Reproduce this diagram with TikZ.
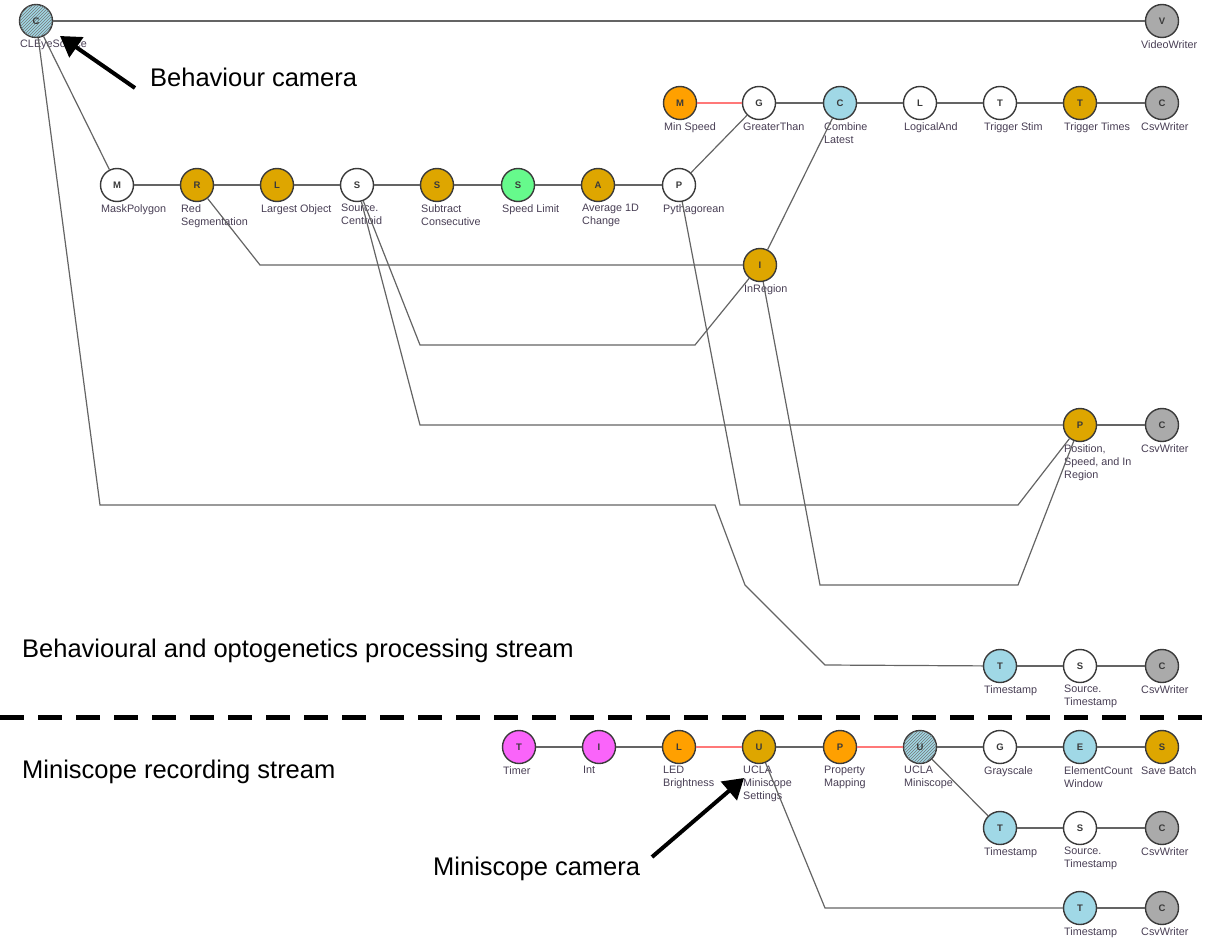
\documentclass[tikz,border=0pt]{standalone}
\usepackage{fontspec}
\setmainfont{Liberation Sans}
\usetikzlibrary{patterns,arrows.meta}
\definecolor{ndraw}{RGB}{58,58,58}
\definecolor{edgec}{RGB}{100,100,100}
\definecolor{redc}{RGB}{255,120,120}
\definecolor{ltext}{RGB}{72,62,84}
\definecolor{cOrange}{RGB}{255,160,0}
\definecolor{cGold}{RGB}{222,166,0}
\definecolor{cBlue}{RGB}{160,216,230}
\definecolor{cGreen}{RGB}{102,250,140}
\definecolor{cMag}{RGB}{250,100,250}
\definecolor{cGray}{RGB}{170,170,170}
\definecolor{cWhite}{RGB}{255,255,255}
\tikzset{
  circ/.style={circle,draw=ndraw,line width=1.4,minimum size=33,inner sep=0,
    font=\fontsize{9.5}{9.5}\selectfont\bfseries,text=ndraw},
  lbl/.style={anchor=north west,align=left,inner sep=0,
    font=\fontsize{10.8}{13}\selectfont,text=ltext},
  hatch/.style={postaction={pattern=north east lines,pattern color=ndraw!70}},
  edge/.style={draw=edgec,line width=1.2},
  redge/.style={draw=redc,line width=1.2},
  bigarrow/.style={draw=black,line width=4,-{Triangle[length=20,width=24]}},
  note/.style={anchor=west,inner sep=0,font=\fontsize{25.5}{28}\selectfont},
}
\newcommand\mynode[7][]{%
  \node[circ,fill=#5,#1] (#2) at (#3,#4) {#6};
  \node[lbl] (#2l) at (#3-16,#4+19) {#7};}
\newcommand\rnode[6]{%
  \node[circ,fill=#4] (#1) at (#2,#3) {#5};
  \node[lbl] (#1l) at (#2-21,#3+19) {#6};}
\begin{document}
\begin{tikzpicture}[x=1pt,y=-1pt]
\useasboundingbox (0,0) rectangle (1212,944);
% ---- nodes
\mynode[hatch]{cle}{36}{21}{cBlue}{C}{CLEyeSource}
\rnode{vw}{1162}{21}{cGray}{V}{VideoWriter}
% top row
\mynode{minsp}{680}{103}{cOrange}{M}{Min Speed}
\mynode{gt}{759}{103}{cWhite}{G}{GreaterThan}
\mynode{comb}{840}{103}{cBlue}{C}{Combine\\Latest}
\mynode{land}{920}{103}{cWhite}{L}{LogicalAnd}
\mynode{tstim}{1000}{103}{cWhite}{T}{Trigger Stim}
\mynode{ttimes}{1080}{103}{cGold}{T}{Trigger Times}
\rnode{csv1}{1162}{103}{cGray}{C}{CsvWriter}
% second row
\mynode{mask}{117}{185}{cWhite}{M}{MaskPolygon}
\mynode{red}{197}{185}{cGold}{R}{Red\\Segmentation}
\mynode{large}{277}{185}{cGold}{L}{Largest Object}
\mynode{cent}{357}{185}{cWhite}{S}{Source.\\Centroid}
\mynode{sub}{437}{185}{cGold}{S}{Subtract\\Consecutive}
\mynode{spd}{518}{185}{cGreen}{S}{Speed Limit}
\mynode{avg}{598}{185}{cGold}{A}{Average 1D\\Change}
\mynode{pyth}{679}{185}{cWhite}{P}{Pythagorean}
\mynode{inr}{760}{265}{cGold}{I}{InRegion}
\mynode{pos}{1080}{425}{cGold}{P}{Position,\\Speed, and In\\Region}
\rnode{csv2}{1162}{425}{cGray}{C}{CsvWriter}
\mynode{ts1}{1000}{666}{cBlue}{T}{Timestamp}
\mynode{sts1}{1080}{666}{cWhite}{S}{Source.\\Timestamp}
\rnode{csv3}{1162}{666}{cGray}{C}{CsvWriter}
% miniscope
\mynode{timer}{519}{747}{cMag}{T}{Timer}
\mynode{int}{599}{747}{cMag}{I}{Int}
\mynode{led}{679}{747}{cOrange}{L}{LED\\Brightness}
\mynode{uset}{759}{747}{cGold}{U}{UCLA\\Miniscope\\Settings}
\mynode{pmap}{840}{747}{cOrange}{P}{Property\\Mapping}
\mynode[hatch]{ucla}{920}{747}{cBlue}{U}{UCLA\\Miniscope}
\mynode{gray}{1000}{747}{cWhite}{G}{Grayscale}
\mynode{ecw}{1080}{747}{cBlue}{E}{ElementCount\\Window}
\rnode{save}{1162}{747}{cGold}{S}{Save Batch}
\mynode{ts2}{1000}{828}{cBlue}{T}{Timestamp}
\mynode{sts2}{1080}{828}{cWhite}{S}{Source.\\Timestamp}
\rnode{csv4}{1162}{828}{cGray}{C}{CsvWriter}
\mynode{ts3}{1080}{908}{cBlue}{T}{Timestamp}
\rnode{csv5}{1162}{908}{cGray}{C}{CsvWriter}
% ---- bend points
\coordinate (b1) at (100,505);
\coordinate (b2) at (715,505);
\coordinate (b3) at (745,585);
\coordinate (b4) at (825,665);
\coordinate (p1) at (740,505);
\coordinate (p2) at (1018,505);
\coordinate (r1) at (260,265);
\coordinate (c1) at (420,345);
\coordinate (c2) at (695,345);
\coordinate (c3) at (420,425);
\coordinate (i1) at (820,585);
\coordinate (i2) at (1018,585);
\coordinate (u1) at (825,908);
% ---- edges
\path[edge] (cle) -- (vw);
\path[edge] (cle) -- (mask);
\path[edge] (cle) -- (b1) -- (b2) -- (b3) -- (b4) -- (ts1);
\path[redge] (minsp) -- (gt);
\path[edge] (gt) -- (comb);
\path[edge] (comb) -- (land);
\path[edge] (land) -- (tstim);
\path[edge] (tstim) -- (ttimes);
\path[edge] (ttimes) -- (csv1);
\path[edge] (mask) -- (red);
\path[edge] (red) -- (large);
\path[edge] (large) -- (cent);
\path[edge] (cent) -- (sub);
\path[edge] (sub) -- (spd);
\path[edge] (spd) -- (avg);
\path[edge] (avg) -- (pyth);
\path[edge] (pyth) -- (gt);
\path[edge] (inr) -- (comb);
\path[edge] (red) -- (r1) -- (inr);
\path[edge] (cent) -- (c1) -- (c2) -- (inr);
\path[edge] (cent) -- (c3) -- (pos);
\path[edge] (pyth) -- (p1) -- (p2) -- (pos);
\path[edge] (inr) -- (i1) -- (i2) -- (pos);
\path[edge] (pos) -- (csv2);
\path[edge] (ts1) -- (sts1);
\path[edge] (sts1) -- (csv3);
\path[edge] (timer) -- (int);
\path[edge] (int) -- (led);
\path[redge] (led) -- (uset);
\path[edge] (uset) -- (pmap);
\path[redge] (pmap) -- (ucla);
\path[edge] (ucla) -- (gray);
\path[edge] (gray) -- (ecw);
\path[edge] (ecw) -- (save);
\path[edge] (ucla) -- (ts2);
\path[edge] (ts2) -- (sts2);
\path[edge] (sts2) -- (csv4);
\path[edge] (uset) -- (u1) -- (ts3);
\path[edge] (ts3) -- (csv5);
% ---- separator
\coordinate (sepL) at (0,717);
\coordinate (sepR) at (1212,717);
\draw[line width=5,dash pattern=on 24 off 14] (sepL) -- (sepR);
% ---- annotations
\node[note] (bc) at (150,77) {Behaviour camera};
\node[note] (mc) at (433,869) {Miniscope camera};
\node[note] (bs) at (22,651) {Behavioural and optogenetics processing stream};
\node[note] (ms) at (22,772) {Miniscope recording stream};
\coordinate (bctail) at (135,88);
\coordinate (bctip) at (60,36);
\coordinate (mctail) at (652,857);
\coordinate (mctip) at (744,778);
\draw[bigarrow] (bctail) -- (bctip);
\draw[bigarrow] (mctail) -- (mctip);
\end{tikzpicture}
\end{document}
